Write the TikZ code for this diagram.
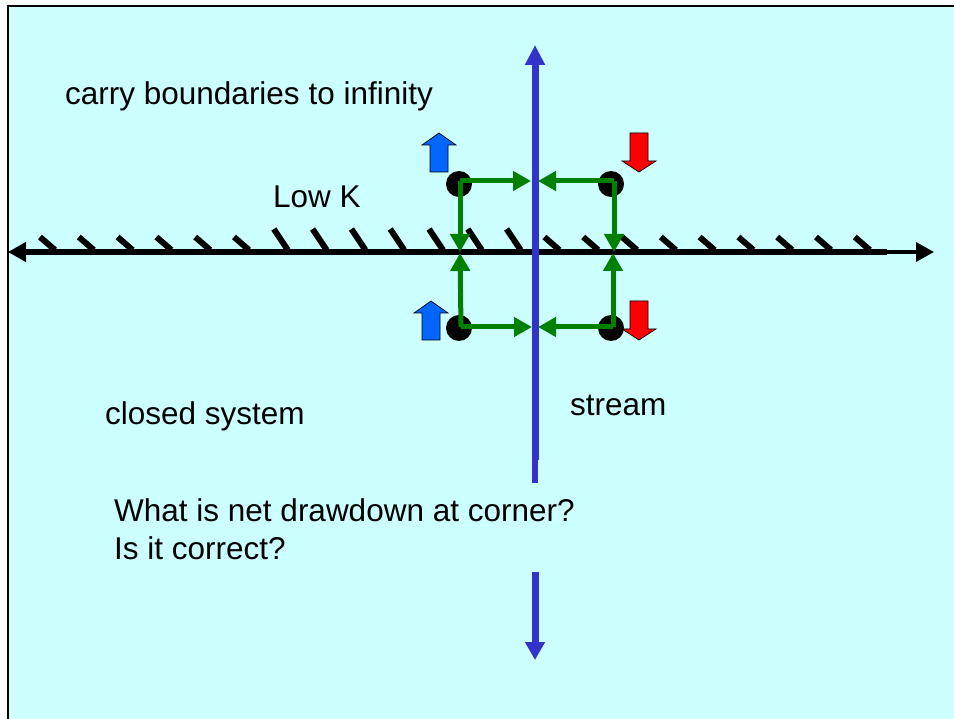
\documentclass[tikz,border=0pt]{standalone}
\usepackage{fontspec}
\setmainfont{Liberation Sans}
\usetikzlibrary{arrows.meta}
\definecolor{bgcyan}{RGB}{204,255,255}
\definecolor{streamblue}{RGB}{51,51,204}
\definecolor{flowgreen}{RGB}{0,128,0}
\definecolor{injblue}{RGB}{0,102,255}
\definecolor{pumpred}{RGB}{255,0,0}
\tikzset{
  lbl/.style={anchor=base west, inner sep=0pt, font=\fontsize{31.5}{37.8}\selectfont},
  well/.style={circle, fill=black, minimum size=26pt, inner sep=0pt},
  flow/.style={draw=flowgreen, line width=5pt, -{Triangle[length=18pt,width=19pt]}},
  hatch/.style={line width=6pt, black},
  upblock/.pic={\filldraw[fill=injblue, draw=black, line width=0.7pt]
     (0,0) -- (17,12) -- (9,12) -- (9,39) -- (-9,39) -- (-9,12) -- (-17,12) -- cycle;},
  downblock/.pic={\filldraw[fill=pumpred, draw=black, line width=0.7pt]
     (0,0) -- (17,-11) -- (9,-11) -- (9,-39) -- (-9,-39) -- (-9,-11) -- (-17,-11) -- cycle;}
}
\begin{document}
\begin{tikzpicture}[x=1pt, y=-1pt]
\useasboundingbox (0,0) rectangle (954,719);
\fill[white] (0,0) rectangle (954,719);
\fill[bgcyan] (8,6) rectangle (954,719);
\draw[line width=2.5pt, black] (8,719) -- (8,6) -- (954,6);

% text
\node[lbl] (t1) at (65,105) {carry boundaries to infinity};
\node[lbl] (t2) at (273,208) {Low K};
\node[lbl] (t3) at (105,425) {closed system};
\node[lbl] (t4) at (570,416) {stream};
\node[lbl] (t5) at (114,521) {What is net drawdown at corner?};
\node[lbl] (t6) at (114,559) {Is it correct?};

% boundary line with hatches
\coordinate (bl) at (8,252);
\coordinate (bm) at (887,252);
\coordinate (br) at (934,252);
\draw[line width=6pt, -{Triangle[length=18pt,width=19pt]}] (bm) -- (bl);
\draw[line width=3.5pt, -{Triangle[length=18pt,width=19pt]}] (bm) -- (br);
\foreach \k in {0,...,5,13,14,...,21}{
  \pgfmathsetmacro{\hx}{38+38.8*\k}
  \draw[hatch] (\hx+2,237) -- (\hx+17,250);
}
\foreach \k in {6,...,12}{
  \pgfmathsetmacro{\hx}{38+38.8*\k}
  \draw[hatch] (\hx+3,229) -- (\hx+17,250);
}

% stream
\coordinate (sTop) at (535,45);
\coordinate (sMid) at (535,460);
\coordinate (sStub) at (535,483);
\coordinate (sLow) at (535,572);
\coordinate (sBot) at (535,660);
\draw[streamblue, line width=7pt, -{Triangle[length=20pt,width=19pt]}] (sMid) -- (sTop);
\draw[streamblue, line width=6pt] (sMid) -- (sStub);
\draw[streamblue, line width=7pt, -{Triangle[length=18pt,width=19pt]}] (sLow) -- (sBot);

% wells
\node[well] (ul) at (459,184) {};
\node[well] (ur) at (611,184) {};
\node[well] (ll) at (459,328) {};
\node[well] (lr) at (611,328) {};

% green flow arrows
\coordinate (cul) at (460,181);
\coordinate (cur) at (614,181);
\coordinate (cll) at (461,327);
\coordinate (clr) at (613,327);
\coordinate (sul) at (531,181);
\coordinate (sur) at (538,181);
\coordinate (sll) at (532,327);
\coordinate (slr) at (538,327);
\coordinate (bul) at (460,252);
\coordinate (bur) at (614,252);
\coordinate (bll) at (460,253);
\coordinate (blr) at (613,253);
\draw[flow] (cul) -- (sul);
\draw[flow] (cur) -- (sur);
\draw[flow] (cll) -- (sll);
\draw[flow] (clr) -- (slr);
\draw[flow] (cul) -- (bul);
\draw[flow] (cur) -- (bur);
\draw[flow] (cll) -- (bll);
\draw[flow] (clr) -- (blr);

% block arrows
\pic at (439,133) {upblock};
\pic at (431,301) {upblock};
\pic at (639,172) {downblock};
\pic at (639,340) {downblock};
\end{tikzpicture}
\end{document}
